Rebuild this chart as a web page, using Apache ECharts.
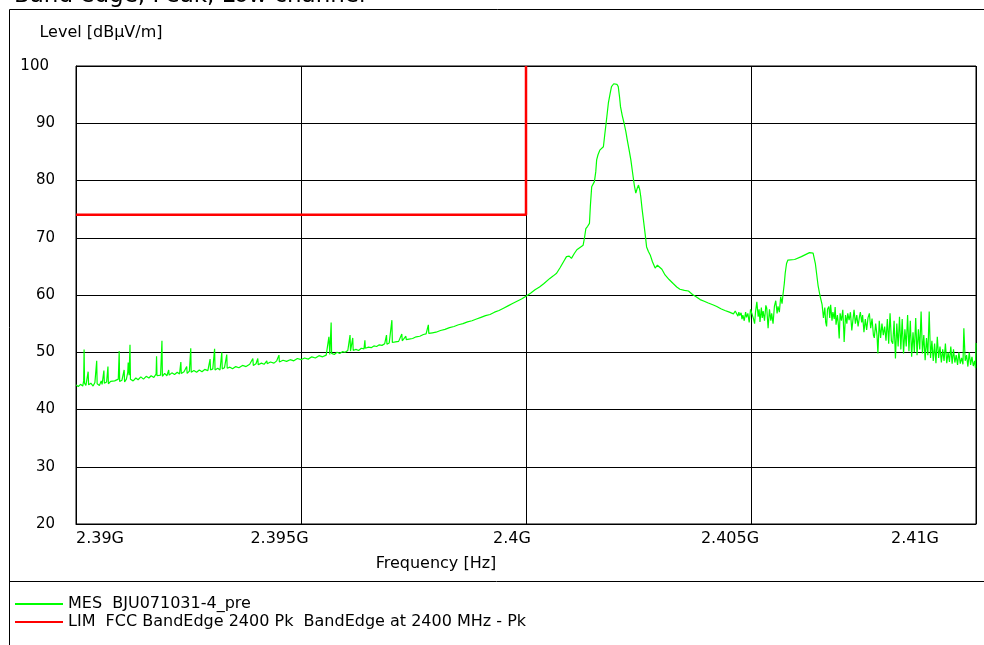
<!DOCTYPE html>
<html>
<head>
<meta charset="utf-8">
<script src="https://cdn.jsdelivr.net/npm/echarts@6/dist/echarts.min.js"></script>
<style>
html,body{margin:0;padding:0;background:#fff;}
#chart{width:984px;height:645px;}
</style>
</head>
<body>
<div id="chart"></div>
<script>
// ---- data (frequency in MHz, level in dBµV/m) ----
const chartTitle = 'Band edge, Peak, Low channel';
const xTickValues = [2390, 2395, 2400, 2405, 2410];
const xTickLabels = ['2.39G', '2.395G', '2.4G', '2.405G', '2.41G'];
const yTickValues = [20, 30, 40, 50, 60, 70, 80, 90, 100];
const mesName = 'MES  BJU071031-4_pre';
const limName = 'LIM  FCC BandEdge 2400 Pk  BandEdge at 2400 MHz - Pk';

const limitFreq = [2390, 2400, 2400];
const limitLevel = [74, 74, 100];

// measured trace: [MHz, dBµV/m]
const mesLow = [
[2390.00,44.3],[2390.05,44.0],[2390.10,44.4],[2390.15,44.1],[2390.17,45.0],[2390.18,50.5],[2390.19,44.6],[2390.22,44.2],
[2390.26,44.5],[2390.27,46.6],[2390.28,44.3],[2390.33,44.6],[2390.38,44.1],[2390.42,44.7],[2390.45,44.4],[2390.46,48.5],
[2390.47,44.5],[2390.52,44.2],[2390.56,45.0],[2390.58,44.4],[2390.62,46.8],[2390.63,44.6],[2390.68,44.8],[2390.71,47.5],
[2390.72,44.5],[2390.77,44.9],[2390.81,44.6],[2390.86,45.0],[2390.90,44.7],[2390.94,45.3],[2390.96,50.2],[2390.97,44.9],
[2391.02,45.1],[2391.07,46.9],[2391.08,44.8],[2391.12,45.3],[2391.15,46.5],[2391.16,48.2],[2391.18,46.0],[2391.20,51.3],
[2391.21,45.3],[2391.27,45.0],[2391.33,45.5],[2391.38,45.2],[2391.44,45.7],[2391.50,45.3],[2391.56,45.8],[2391.62,45.5],
[2391.67,45.9],[2391.73,45.6],[2391.78,46.2],[2391.79,49.3],[2391.80,45.9],[2391.88,46.0],[2391.91,52.0],[2391.92,45.8],
[2391.97,46.3],[2392.02,45.9],[2392.06,46.9],[2392.07,46.0],[2392.13,46.4],[2392.19,46.1],[2392.25,46.5],[2392.30,46.2],
[2392.33,48.3],[2392.34,46.3],[2392.40,46.6],[2392.46,47.5],[2392.47,46.3],[2392.52,46.7],[2392.55,50.7],[2392.56,46.5],
[2392.62,46.8],[2392.68,46.5],[2392.74,46.9],[2392.80,46.6],[2392.86,47.0],[2392.93,46.8],[2392.98,48.8],[2392.99,46.9],
[2393.04,47.1],[2393.08,50.6],[2393.09,46.9],[2393.15,47.2],[2393.20,46.9],[2393.24,50.0],[2393.25,47.1],[2393.30,47.3],
[2393.35,49.6],[2393.36,47.2],[2393.42,47.4],[2393.48,47.1],[2393.55,47.5],[2393.62,47.3],[2393.70,47.7],[2393.78,47.5],
[2393.86,47.9],[2393.93,48.9],[2393.94,47.7],[2394.00,48.0],[2394.04,48.9],[2394.05,47.8],[2394.12,48.1],[2394.18,47.9],
[2394.24,48.5],[2394.25,48.0],[2394.32,48.3],[2394.40,48.1],[2394.46,48.5],[2394.51,49.5],[2394.52,48.3],[2394.60,48.6],
[2394.68,48.4],[2394.76,48.7],[2394.84,48.5],[2394.92,48.9],[2395.00,48.7],[2395.08,49.0],[2395.16,48.8],[2395.24,49.2],
[2395.32,49.0],[2395.40,49.4],[2395.48,49.2],[2395.56,49.5],[2395.60,49.7],[2395.62,52.7],[2395.64,49.6],[2395.67,55.2],
[2395.68,49.8],[2395.74,49.6],[2395.80,50.0],[2395.86,49.8],[2395.92,50.1],[2395.98,50.0],[2396.04,50.3],[2396.09,53.0],
[2396.10,50.2],[2396.15,52.5],[2396.16,50.3],[2396.22,50.5],[2396.28,50.3],[2396.34,50.7],[2396.40,50.6],[2396.42,52.1],
[2396.43,50.7],[2396.50,50.9],[2396.56,50.8],[2396.62,51.1],[2396.68,51.0],[2396.74,51.3],[2396.80,51.2],[2396.86,51.5],
[2396.90,53.0],[2396.91,51.4],[2396.96,51.6],[2397.02,55.6],[2397.03,51.7],[2397.10,51.8],[2397.17,51.9],[2397.24,53.2],
[2397.25,52.0],[2397.33,52.8],[2397.34,52.2],[2397.40,52.3],[2397.48,52.4],[2397.56,52.7],[2397.64,52.8],[2397.72,53.1],
[2397.78,53.2],[2397.83,54.8],[2397.84,53.3],[2397.92,53.4],[2398.00,53.5],[2398.10,53.8],[2398.20,54.0],[2398.30,54.3],
[2398.40,54.5],[2398.50,54.8],[2398.60,55.0],[2398.70,55.3],[2398.80,55.5],[2398.90,55.8],[2399.00,56.1],[2399.10,56.4],
[2399.20,56.6],[2399.30,57.0],[2399.40,57.3],[2399.50,57.7],[2399.60,58.1],[2399.70,58.5],[2399.80,58.9],[2399.90,59.3],
[2400.00,59.8],[2400.10,60.3],[2400.20,60.9],[2400.30,61.4],[2400.40,62.0]
];
const mesPeak = [
[2400.53,62.9],[2400.60,63.3],[2400.68,63.8],[2400.76,64.8],[2400.84,65.9],[2400.90,66.7],[2400.96,66.8],[2401.01,66.4],
[2401.07,67.2],[2401.13,67.9],[2401.20,68.3],[2401.27,68.7],[2401.30,70.0],[2401.33,71.6],[2401.37,72.0],[2401.41,72.5],
[2401.43,75.5],[2401.46,78.9],[2401.52,79.8],[2401.55,81.5],[2401.57,83.6],[2401.60,84.5],[2401.64,85.3],[2401.72,85.9],
[2401.75,88.0],[2401.78,90.0],[2401.83,93.5],[2401.87,95.2],[2401.90,96.4],[2401.95,96.9],[2401.99,97.0],[2402.02,96.8],
[2402.05,96.4],[2402.08,94.5],[2402.10,92.9],[2402.14,91.3],[2402.18,90.0],[2402.22,88.5],[2402.25,87.1],[2402.29,85.4],
[2402.33,83.6],[2402.38,80.7],[2402.41,79.0],[2402.44,77.8],[2402.47,78.6],[2402.50,79.2],[2402.53,78.3],[2402.55,77.2],
[2402.58,75.0],[2402.61,73.1],[2402.65,70.5],[2402.68,68.4],[2402.72,67.6],[2402.76,67.0],[2402.81,65.8],[2402.87,64.7],
[2402.92,65.2],[2402.96,65.4],[2403.02,64.5],[2403.09,63.5],[2403.18,62.7],[2403.27,62.0],[2403.35,61.4],[2403.42,61.0],
[2403.52,60.8],[2403.61,60.7],[2403.70,60.1],[2403.78,59.7],[2403.87,59.2],[2403.96,58.9],[2404.05,58.6],[2404.15,58.3],
[2404.24,58.0],[2404.33,57.6],[2404.42,57.3],[2404.52,57.0],[2404.61,56.7]
];
const mesBump = [
[2404.65,57.2],[2404.68,57.5],[2404.71,56.3],[2404.73,57.0],[2404.75,56.4],[2404.78,56.9],[2404.80,55.8],[2404.82,56.5],
[2404.85,55.5],[2404.88,57.0],[2404.90,56.1],[2404.93,56.8],[2404.96,55.2],[2404.99,57.5],[2405.02,57.7],[2405.05,56.0],
[2405.08,55.0],[2405.10,57.0],[2405.13,58.8],[2405.16,56.2],[2405.18,57.5],[2405.20,55.3],[2405.23,57.8],[2405.25,56.0],
[2405.27,57.2],[2405.30,55.5],[2405.33,58.2],[2405.35,57.7],[2405.38,54.2],[2405.41,57.5],[2405.44,55.5],[2405.46,56.8],
[2405.49,55.0],[2405.52,58.0],[2405.55,59.0],[2405.58,56.8],[2405.60,58.0],[2405.63,57.0],[2405.66,59.7],[2405.69,58.5],
[2405.71,60.0],[2405.74,62.0],[2405.76,63.8],[2405.79,65.5],[2405.82,66.1],[2405.97,66.2],[2406.12,66.7],[2406.30,67.4],
[2406.38,67.3],[2406.43,65.5],[2406.49,61.7],[2406.53,60.0]
];
const mesHigh = [
[2406.58,58.3],[2406.61,56.0],[2406.64,57.8],[2406.66,55.2],[2406.68,54.5],[2406.70,57.5],[2406.73,58.0],[2406.75,56.0],
[2406.77,58.3],[2406.80,55.5],[2406.82,57.0],[2406.85,55.8],[2406.87,57.9],[2406.89,54.8],[2406.92,56.5],[2406.94,55.0],
[2406.96,52.4],[2406.98,56.8],[2407.01,55.5],[2407.04,57.4],[2407.06,54.0],[2407.07,51.8],[2407.10,56.5],[2407.13,55.0],
[2407.15,56.8],[2407.18,55.6],[2407.21,57.0],[2407.24,53.8],[2407.27,56.0],[2407.29,57.4],[2407.32,55.0],[2407.35,56.5],
[2407.38,54.5],[2407.41,56.2],[2407.43,57.0],[2407.46,55.2],[2407.48,56.5],[2407.51,53.5],[2407.54,55.8],[2407.57,53.9],
[2407.60,56.0],[2407.63,56.8],[2407.66,54.2],[2407.69,55.9],[2407.72,53.0],[2407.74,52.5],[2407.77,55.0],[2407.80,53.0],
[2407.82,49.8],[2407.85,55.5],[2407.88,52.5],[2407.91,55.0],[2407.94,53.0],[2407.97,54.5],[2408.00,52.0],[2408.03,55.8],
[2408.06,51.5],[2408.09,56.8],[2408.12,52.0],[2408.15,51.5],[2408.18,55.5],[2408.21,48.9],[2408.24,55.0],[2408.27,51.0],
[2408.30,56.2],[2408.33,50.5],[2408.36,55.8],[2408.39,49.8],[2408.42,54.0],[2408.45,51.0],[2408.48,56.5],[2408.51,50.2],
[2408.54,55.5],[2408.57,49.2],[2408.60,53.5],[2408.63,50.0],[2408.66,56.0],[2408.69,49.5],[2408.72,54.0],[2408.75,50.5],
[2408.78,57.1],[2408.81,49.8],[2408.84,53.0],[2408.87,48.6],[2408.90,52.5],[2408.93,49.5],[2408.96,57.1],[2408.99,49.0],
[2409.02,52.0],[2409.05,48.5],[2409.08,51.5],[2409.11,48.1],[2409.14,52.7],[2409.17,49.0],[2409.20,51.0],[2409.23,48.2],
[2409.26,50.5],[2409.29,48.5],[2409.32,51.5],[2409.35,48.1],[2409.38,50.0],[2409.41,48.3],[2409.44,51.0],[2409.47,48.0],
[2409.50,50.5],[2409.53,48.2],[2409.56,49.5],[2409.59,47.8],[2409.62,50.0],[2409.65,48.0],[2409.68,49.0],[2409.71,47.9],
[2409.73,54.2],[2409.76,48.5],[2409.79,49.5],[2409.82,47.5],[2409.85,50.0],[2409.88,47.8],[2409.91,49.2],[2409.94,47.6],
[2409.97,48.5],[2409.99,47.2],[2410.00,51.6]
];

// ---- chart ----
const chart = echarts.init(document.getElementById('chart'), null, {renderer: 'canvas'});
const font = 'DejaVu Sans, sans-serif';
const fs = 16;
const fsY = 15;
const mesData = mesLow.concat(mesPeak, mesBump, mesHigh);
const limitData = limitFreq.map((f, i) => [f, limitLevel[i]]);
const xShift = {2390: 'l0', 2395: 'l1', 2400: 'l2', 2405: 'l3', 2410: 'l4'};

chart.setOption({
  animation: false,
  backgroundColor: '#ffffff',
  textStyle: {fontFamily: font, color: '#000'},
  title: {
    text: chartTitle, left: 9, top: -20,
    textStyle: {fontFamily: font, fontSize: 23, fontWeight: 'normal', color: '#000'}
  },
  grid: {left: 76, top: 66, right: 8, bottom: 121, show: true, borderColor: '#000', borderWidth: 1, outerBoundsMode: 'none'},
  legend: {
    orient: 'vertical', left: 10, top: 591, itemWidth: 48, itemHeight: 2, itemGap: 2,
    icon: 'rect', selectedMode: false,
    textStyle: {fontFamily: font, fontSize: fs, color: '#000'},
    data: [mesName, limName]
  },
  xAxis: {
    type: 'value', min: 2390, max: 2410, interval: 5,
    name: 'Frequency [Hz]', nameLocation: 'middle', nameGap: 32,
    nameTextStyle: {fontFamily: font, fontSize: fs, color: '#000', padding: [0, 180, 0, 0]},
    axisLine: {show: true, lineStyle: {color: '#000', width: 1}},
    axisTick: {show: false},
    splitLine: {show: true, lineStyle: {color: '#000', width: 1}},
    axisLabel: {
      fontFamily: font, fontSize: fs, color: '#000', margin: 7, showMinLabel: true, showMaxLabel: true,
      formatter: function (v) {
        const i = xTickValues.indexOf(v);
        return '{' + xShift[v] + '|' + xTickLabels[i] + '}';
      },
      rich: {
        l0: {fontFamily: font, fontSize: fs, padding: [0, 0, 0, 48]},
        l1: {fontFamily: font, fontSize: fs, padding: [0, 43, 0, 0]},
        l2: {fontFamily: font, fontSize: fs, padding: [0, 28, 0, 0]},
        l3: {fontFamily: font, fontSize: fs, padding: [0, 42, 0, 0]},
        l4: {fontFamily: font, fontSize: fs, padding: [0, 122, 0, 0]}
      }
    }
  },
  yAxis: {
    type: 'value', min: 20, max: 100, interval: 10,
    name: 'Level [dBµV/m]', nameLocation: 'end', nameGap: 25,
    nameTextStyle: {fontFamily: font, fontSize: fs, color: '#000', padding: [0, 0, 0, 50]},
    axisLine: {show: true, lineStyle: {color: '#000', width: 1}},
    axisTick: {show: false},
    splitLine: {show: true, lineStyle: {color: '#000', width: 1}},
    axisLabel: {
      fontFamily: font, fontSize: fsY, color: '#000', margin: 21,
      formatter: function (v) { return v === 100 ? '{t|' + v + '}' : '' + v; },
      rich: {t: {fontFamily: font, fontSize: fsY, padding: [0, 6, 0, 0]}}
    }
  },
  series: [
    {
      name: mesName, type: 'line', data: mesData, showSymbol: false, symbol: 'none',
      color: '#00ff00', lineStyle: {color: '#00ff00', width: 1.2}, z: 3
    },
    {
      name: limName, type: 'line', data: limitData, showSymbol: false, symbol: 'none',
      color: '#ff0000', lineStyle: {color: '#ff0000', width: 2.5}, z: 4
    }
  ],
  graphic: [
    {type: 'rect', shape: {x: 9.5, y: 9.5, width: 990, height: 650}, style: {fill: null, stroke: '#000', lineWidth: 1}, silent: true, z: -1},
    {type: 'line', shape: {x1: 9, y1: 581.5, x2: 984, y2: 581.5}, style: {stroke: '#000', lineWidth: 1}, silent: true}
  ]
});
</script>
</body>
</html>
